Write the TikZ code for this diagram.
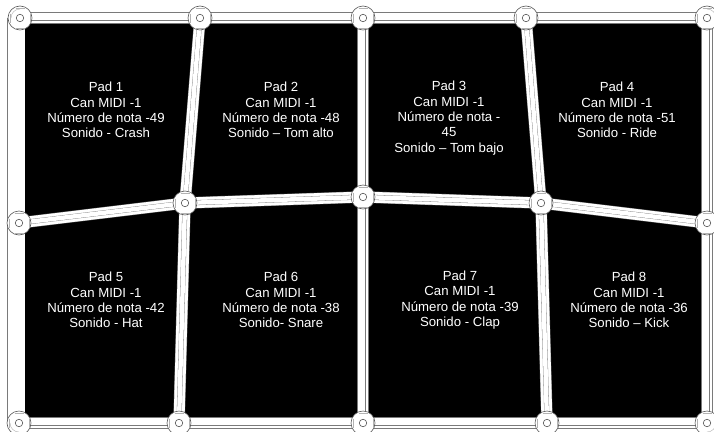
\documentclass[tikz,border=0pt]{standalone}
\usepackage{fontspec}
\setmainfont{Liberation Sans}
\definecolor{linegray}{gray}{0.48}
\definecolor{tickgray}{gray}{0.7}
\tikzset{
    hub/.style={circle,draw=black!65,line width=0.6pt,fill=white,minimum size=24pt,inner sep=0pt},
    eye/.style={circle,draw=black!65,line width=0.6pt,minimum size=7.5pt,inner sep=0pt},
    hubtick/.style={draw=tickgray,line width=0.4pt},
    padtext/.style={text=white,align=center,font=\fontsize{13.2}{15.4}\selectfont},
    strutedge/.style={draw=linegray,line width=11.6pt},
    strutface/.style={draw=white,line width=10.8pt},
    strutcore/.style={draw=linegray,line width=5pt},
    strutfill/.style={draw=white,line width=4.4pt}
}
\newcommand{\strutline}[2]{
    \draw[strutedge] (#1) -- (#2);
    \draw[strutface] (#1) -- (#2);
    \draw[strutcore] (#1) -- (#2);
    \draw[strutfill] (#1) -- (#2);
}
\begin{document}
\begin{tikzpicture}[x=1pt,y=-1pt]
    \useasboundingbox (0,0) rectangle (714,431);
    \fill[white] (0,0) rectangle (714,431);
    \fill[black] (16,18) rectangle (706,424);
    \coordinate (tl) at (20,18);
    \coordinate (tb) at (200,18);
    \coordinate (tc) at (363,18);
    \coordinate (td) at (526,18);
    \coordinate (tr) at (707,18);
    \coordinate (ml) at (19,223);
    \coordinate (mb) at (185,203);
    \coordinate (mc) at (363,197);
    \coordinate (md) at (541,203);
    \coordinate (mr) at (707,223);
    \coordinate (bl) at (19,423);
    \coordinate (bb) at (179,423);
    \coordinate (bc) at (363,423);
    \coordinate (bd) at (547,423);
    \coordinate (br) at (707,423);
    \foreach \from/\to in {tl/tb,tb/tc,tc/td,td/tr,ml/mb,mb/mc,mc/md,md/mr,bl/bb,bb/bc,bc/bd,bd/br,
        tb/mb,tc/mc,td/md,mb/bb,mc/bc,md/bd,tr/mr,mr/br}
        \strutline{\from}{\to};
    \draw[strutedge,line width=18pt] (16,18) -- (16,424);
    \draw[strutface,line width=17pt] (16,18) -- (16,424);
    \draw[strutcore,line width=9.5pt] (17.5,18) -- (17.5,424);
    \draw[strutfill,line width=8.9pt] (17.5,18) -- (17.5,424);
    \foreach \name in {tl,tb,tc,td,tr,ml,mb,mc,md,mr,bl,bb,bc,bd,br} {
        \node[hub] (hub\name) at (\name) {};
        \node[eye] (eye\name) at (\name) {};
        \begin{scope}[shift={(\name)}]
            \draw[hubtick] (-10,-4.5) -- (-10,4.5);
            \draw[hubtick] (10,-4.5) -- (10,4.5);
            \draw[hubtick] (-4.5,-10) -- (4.5,-10);
            \draw[hubtick] (-4.5,10) -- (4.5,10);
        \end{scope}
    }
    \foreach \name/\start in {tl/180,tr/270,br/0,bl/90}
        \draw[hubtick,shift={(\name)}] (\start:9) arc[start angle=\start,delta angle=90,radius=9];
    \node[padtext] (pad1) at (106,110) {Pad 1\\Can MIDI -1\\Número de nota -49\\Sonido - Crash};
    \node[padtext] (pad2) at (281,110) {Pad 2\\Can MIDI -1\\Número de nota -48\\Sonido – Tom alto};
    \node[padtext] (pad3) at (449,118) {Pad 3\\Can MIDI -1\\Número de nota -\\45\\Sonido – Tom bajo};
    \node[padtext] (pad4) at (617,110) {Pad 4\\Can MIDI -1\\Número de nota -51\\Sonido - Ride};
    \node[padtext] (pad5) at (106,300) {Pad 5\\Can MIDI -1\\Número de nota -42\\Sonido - Hat};
    \node[padtext] (pad6) at (281,300) {Pad 6\\Can MIDI -1\\Número de nota -38\\Sonido- Snare};
    \node[padtext] (pad7) at (460,300) {Pad 7\\Can MIDI -1\\Número de nota -39\\Sonido - Clap};
    \node[padtext] (pad8) at (629,300) {Pad 8\\Can MIDI -1\\Número de nota -36\\Sonido – Kick};
\end{tikzpicture}
\end{document}
